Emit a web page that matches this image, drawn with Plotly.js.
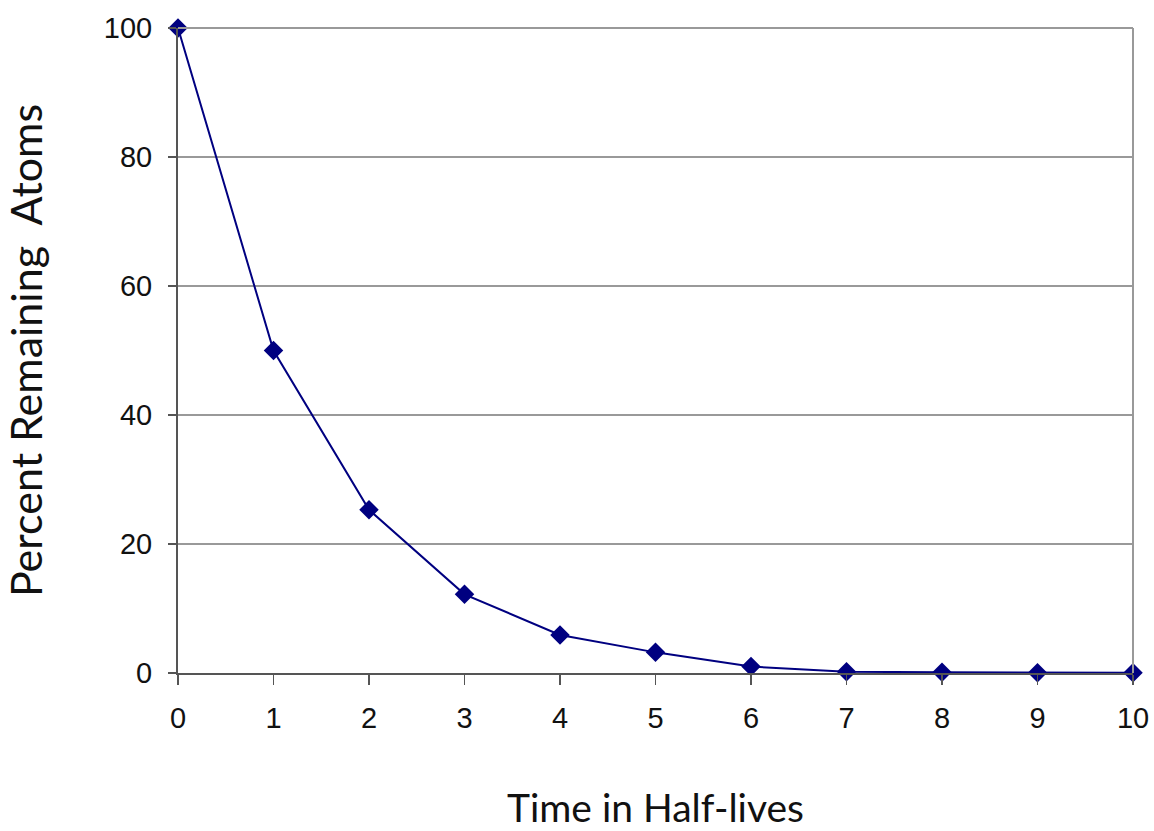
<!DOCTYPE html>
<html>
<head>
<meta charset="utf-8">
<script src="https://cdn.plot.ly/plotly-3.0.1.min.js"></script>
<style>html,body{margin:0;padding:0;background:#fff;}#chart{width:1154px;height:831px;}</style>
</head>
<body>
<div id="chart"></div>
<script>
const halfLives = [0, 1, 2, 3, 4, 5, 6, 7, 8, 9, 10];
const percentRemaining = [100, 50, 25.3, 12.2, 5.9, 3.2, 1.0, 0.2, 0.1, 0.05, 0.02];
const xTickVals = [0, 1, 2, 3, 4, 5, 6, 7, 8, 9, 10];
const yTickVals = [0, 20, 40, 60, 80, 100];

const tickFont = {family: '"Liberation Sans", Arial, sans-serif', size: 29, color: '#111'};

const trace = {
  x: halfLives,
  y: percentRemaining,
  type: 'scatter',
  mode: 'lines+markers',
  line: {color: '#000080', width: 2},
  marker: {symbol: 'diamond', size: 15, color: '#000080'},
  cliponaxis: false,
  hoverinfo: 'skip'
};

const layout = {
  width: 1154, height: 831,
  margin: {l: 178, r: 21, t: 28, b: 158},
  paper_bgcolor: '#fff', plot_bgcolor: '#fff',
  showlegend: false,
  xaxis: {
    range: [0, 10], tickvals: xTickVals, ticktext: xTickVals.map(String),
    showgrid: false, zeroline: false,
    showline: true, linecolor: '#555', linewidth: 2,
    ticks: 'outside', ticklen: 10, tickcolor: '#555', tickwidth: 1.5,
    ticklabelstandoff: 8,
    tickfont: tickFont,
    title: {text: 'Time in Half-lives', font: {family: 'Lato, "Open Sans", sans-serif', size: 39, color: '#111'}, standoff: 62}
  },
  yaxis: {
    range: [0, 100], tickvals: yTickVals, ticktext: yTickVals.map(String),
    showgrid: true, gridcolor: '#999', gridwidth: 1.5, zeroline: false,
    showline: true, linecolor: '#555', linewidth: 2,
    ticks: 'outside', ticklen: 8, tickcolor: '#555', tickwidth: 1.5,
    ticklabelstandoff: 10,
    tickfont: tickFont,
    title: {text: 'Percent Remaining\u00a0 Atoms', font: {family: 'Lato, "Open Sans", sans-serif', size: 43, color: '#111'}, standoff: 58}
  },
  shapes: [
    {type: 'line', xref: 'paper', yref: 'paper', x0: 1, x1: 1, y0: 0, y1: 1, line: {color: '#999', width: 2}},
    {type: 'line', xref: 'paper', yref: 'paper', x0: 0, x1: 1, y0: 1, y1: 1, line: {color: '#999', width: 2}}
  ]
};

Plotly.newPlot('chart', [trace], layout, {displayModeBar: false, staticPlot: true});
</script>
</body>
</html>
